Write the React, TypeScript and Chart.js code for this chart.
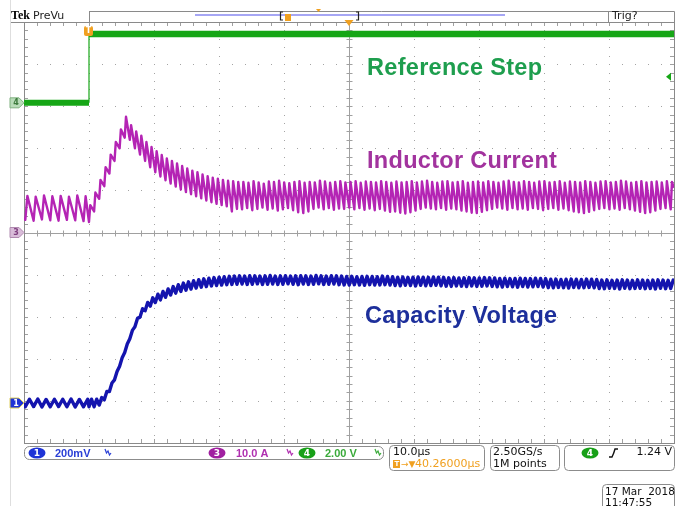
import React, { useEffect, useRef } from "react";
import { Chart, registerables } from "chart.js";

Chart.register(...registerables);

// ---------- horizontal: 10.0 µs/div, 10 divisions ----------
const timeMin = 0;
const timeMax = 100; // µs
const stepTime = 10; // µs, reference step edge

// ---------- channel settings: units per division, ground offset (div) ----------
const ch1PerDiv = 200; // mV/div  (capacity voltage, blue)
const ch1Offset = -4.05;
const ch3PerDiv = 10; // A/div   (inductor current, purple)
const ch3Offset = 0;
const ch4PerDiv = 2; // V/div   (reference step, green)
const ch4Offset = 3.08;
const triggerLevel = 1.24; // V on ch4

// ---------- CH4 reference step (V) ----------
const stepLowTimes = [0, 10];
const stepLowVolts = [0, 0];
const stepEdgeTimes = [10, 10];
const stepEdgeVolts = [0, 3.27];
const stepHighTimes = [10, 100];
const stepHighVolts = [3.27, 3.27];

// ---------- switching ripple timing (µs) ----------
const preStart = 0.2;
const prePeriod = 1.28;
const postStart = 10;
const postPeriod = 0.785;

// ---------- CH3 inductor current (A): [trough, peak] per switching cycle ----------
const currentFirst = 3.6;
const currentLast = 10.6;
const currentPre = [
  [3.0, 8.7], [2.8, 8.5], [3.1, 8.8], [2.9, 8.6], [2.8, 8.7], [3.0, 8.5], [2.9, 8.8], [2.7, 8.6],
];
const currentPost = [
  [2.5, 6.5], [5.0, 9.5], [8.0, 12.5], [11.0, 15.5], [14.0, 18.5], [17.0, 21.5], [20.0, 24.5], [22.5, 27.5], [22.0, 25.5], [20.0, 24.0],
  [18.5, 23.0], [17.0, 21.5], [15.5, 20.3], [14.3, 19.3], [13.3, 18.4], [12.4, 17.6], [11.6, 17.0], [10.9, 16.4], [10.2, 15.8], [9.6, 15.2],
  [9.1, 14.7], [8.6, 14.3], [8.1, 13.8], [7.6, 13.4], [7.2, 13.0], [6.8, 12.8], [6.5, 12.5], [6.2, 12.3], [5.0, 12.2], [5.6, 12.0],
  [5.5, 12.0], [5.8, 11.8], [5.3, 12.2], [5.6, 11.9], [5.9, 11.6], [5.4, 12.1], [5.7, 12.0], [5.2, 12.3], [5.5, 11.9], [5.8, 11.7],
  [5.3, 12.0], [4.8, 12.2], [4.6, 11.8], [5.0, 12.0], [5.6, 11.9], [5.9, 12.3], [5.5, 12.1], [5.8, 11.8], [5.4, 12.0], [5.7, 12.2],
  [5.6, 11.9], [5.9, 12.0], [5.5, 12.2], [5.8, 11.8], [5.4, 12.1], [5.7, 12.0], [5.3, 11.9], [5.6, 12.2], [5.2, 12.0], [4.9, 11.8],
  [5.0, 12.1], [4.7, 11.9], [4.5, 12.0], [4.8, 12.2], [5.2, 11.9], [5.6, 12.1], [5.9, 12.3], [5.7, 12.0], [5.5, 11.8], [5.8, 12.1],
  [5.4, 12.2], [5.7, 11.9], [5.5, 12.0], [5.2, 12.2], [5.0, 11.8], [4.7, 12.0], [4.6, 12.1], [4.9, 11.9], [5.3, 12.2], [5.6, 12.0],
  [5.9, 11.8], [5.7, 12.1], [5.4, 12.3], [5.8, 12.0], [5.5, 11.9], [5.7, 12.2], [5.4, 12.0], [5.8, 11.8], [5.6, 12.1], [5.3, 12.2],
  [5.6, 11.9], [5.8, 12.0], [5.4, 12.2], [5.7, 11.8], [5.3, 12.1], [5.0, 12.0], [4.8, 11.9], [4.6, 12.2], [4.9, 12.0], [5.3, 11.8],
  [5.6, 12.1], [5.8, 12.2], [5.5, 11.9], [5.7, 12.0], [5.4, 12.3], [5.8, 12.1], [5.5, 11.8], [5.2, 12.0], [4.9, 12.2], [4.6, 11.9],
  [4.8, 12.0], [5.2, 12.1], [5.6, 11.9], [5.8, 12.2], [5.5, 12.0],
];

// ---------- CH1 capacity voltage (mV): [trough, peak] per switching cycle ----------
const voltageFirst = 0;
const voltageLast = 566;
const voltagePre = [
  [-18, 18], [-17, 19], [-19, 17], [-18, 18], [-17, 18], [-18, 19], [-19, 17], [-18, 18],
];
const voltagePost = [
  [-18, 18], [-18, 18], [-10, 26], [15, 55], [55, 95], [110, 150], [175, 215], [240, 280], [305, 345], [362, 402],
  [408, 448], [438, 478], [460, 500], [477, 517], [490, 530], [502, 542], [513, 553], [522, 562], [530, 570], [536, 576],
  [541, 581], [546, 586], [550, 590], [553, 593], [556, 596], [558, 598], [560, 600], [562, 602], [563, 603], [564, 604],
  [565, 603], [563, 605], [564, 604], [566, 603], [563, 604], [564, 606], [565, 603], [563, 604], [564, 605], [566, 603],
  [564, 604], [562, 605], [565, 604], [563, 603], [564, 606], [566, 604], [563, 603], [564, 605], [565, 604], [562, 603],
  [561, 601], [560, 602], [562, 600], [561, 601], [559, 602], [562, 601], [560, 600], [561, 603], [562, 601], [560, 600],
  [558, 598], [557, 599], [559, 597], [558, 598], [556, 599], [559, 598], [557, 597], [558, 599], [559, 598], [557, 597],
  [555, 595], [554, 596], [556, 594], [555, 595], [553, 596], [556, 595], [554, 594], [555, 596], [556, 595], [554, 594],
  [552, 592], [551, 593], [553, 591], [552, 592], [550, 593], [553, 592], [551, 591], [552, 593], [553, 592], [551, 591],
  [548, 588], [547, 589], [549, 587], [548, 588], [546, 589], [549, 588], [547, 587], [548, 589], [549, 588], [547, 587],
  [544, 584], [543, 585], [545, 583], [544, 584], [542, 585], [545, 584], [543, 583], [544, 585], [545, 584], [543, 583],
  [544, 584], [542, 585], [545, 584], [543, 583], [544, 584],
];

// ---------- labels ----------
const traceLabels = ["Reference Step", "Inductor Current", "Capacity Voltage"];
const ch1Text = "200mV";
const ch3Text = "10.0 A";
const ch4Text = "2.00 V";
const horizText = "10.0µs";
const delayText = "40.26000µs";
const rateText = "2.50GS/s";
const pointsText = "1M points";
const trigText = "1.24 V";
const dateText = "17 Mar  2018";
const timeText = "11:47:55";

const W = 681;
const H = 506;

function ripplePoints(start: number, period: number, riseFrac: number, pairs: number[][]) {
  const pts: { x: number; y: number }[] = [];
  pairs.forEach(([lo, hi], k) => {
    const t0 = start + k * period;
    pts.push({ x: t0, y: lo }, { x: t0 + period * riseFrac, y: hi });
  });
  return pts;
}

function zip(xs: number[], ys: number[]) {
  return xs.map((x, i) => ({ x, y: ys[i] }));
}

function axisRange(perDiv: number, offset: number) {
  return { min: (-5 - offset) * perDiv, max: (5 - offset) * perDiv };
}

const GREEN = "#16a616";
const PURPLE = "#b424b4";
const BLUE = "#1414ae";
const ORANGE = "#f0a020";
const FONT = '"DejaVu Sans", sans-serif';

function badge(ctx: CanvasRenderingContext2D, cx: number, cy: number, n: string, fill: string) {
  ctx.fillStyle = fill;
  ctx.beginPath();
  ctx.ellipse(cx, cy, 8.5, 5.5, 0, 0, Math.PI * 2);
  ctx.fill();
  ctx.fillStyle = "#fff";
  ctx.font = `bold 9px ${FONT}`;
  ctx.textAlign = "center";
  ctx.textBaseline = "middle";
  ctx.fillText(n, cx, cy + 0.5);
  ctx.textAlign = "left";
}

function squiggle(ctx: CanvasRenderingContext2D, x: number, y: number, color: string) {
  ctx.strokeStyle = color;
  ctx.lineWidth = 1.2;
  ctx.beginPath();
  ctx.moveTo(x, y - 4);
  ctx.lineTo(x + 1.5, y);
  ctx.lineTo(x + 3, y - 2);
  ctx.lineTo(x + 4.5, y + 2);
  ctx.lineTo(x + 6, y);
  ctx.stroke();
}

function leftTag(ctx: CanvasRenderingContext2D, y: number, fill: string, stroke: string, txt: string, label: string) {
  ctx.beginPath();
  ctx.moveTo(10, y - 5);
  ctx.lineTo(19, y - 5);
  ctx.lineTo(24, y);
  ctx.lineTo(19, y + 5);
  ctx.lineTo(10, y + 5);
  ctx.closePath();
  ctx.fillStyle = fill;
  ctx.fill();
  ctx.strokeStyle = stroke;
  ctx.lineWidth = 1;
  ctx.stroke();
  ctx.fillStyle = txt;
  ctx.font = `bold 8px ${FONT}`;
  ctx.textAlign = "center";
  ctx.textBaseline = "middle";
  ctx.fillText(label, 16, y + 0.5);
  ctx.textAlign = "left";
}

const graticule = {
  id: "graticule",
  beforeDatasetsDraw(chart: any) {
    const ctx: CanvasRenderingContext2D = chart.ctx;
    const xs = chart.scales.x;
    const ys = chart.scales.yI;
    const L = xs.getPixelForValue(timeMin);
    const R = xs.getPixelForValue(timeMax);
    const T = ys.getPixelForValue(50);
    const B = ys.getPixelForValue(-50);
    ctx.save();
    ctx.fillStyle = "#a4a4a4";
    for (let d = 1; d < 10; d++) {
      if (d === 5) continue;
      const x = Math.round(xs.getPixelForValue(d * 10));
      for (let j = 1; j < 50; j++) ctx.fillRect(x, Math.round(ys.getPixelForValue(-50 + j * 2)), 1, 1);
    }
    for (let d = -4; d <= 4; d++) {
      if (d === 0) continue;
      const y = Math.round(ys.getPixelForValue(d * 10));
      for (let i = 1; i < 50; i++) ctx.fillRect(Math.round(xs.getPixelForValue(i * 2)), y, 1, 1);
    }
    const cx = Math.round(xs.getPixelForValue(50)) + 0.5;
    const cy = Math.round(ys.getPixelForValue(0)) + 0.5;
    ctx.strokeStyle = "#a0a0a0";
    ctx.lineWidth = 1;
    ctx.beginPath();
    ctx.moveTo(L, cy);
    ctx.lineTo(R, cy);
    ctx.moveTo(cx, T);
    ctx.lineTo(cx, B);
    for (let i = 1; i < 50; i++) {
      const x = Math.round(xs.getPixelForValue(i * 2)) + 0.5;
      ctx.moveTo(x, cy - 3);
      ctx.lineTo(x, cy + 3);
      ctx.moveTo(x, T);
      ctx.lineTo(x, T + 4);
      ctx.moveTo(x, B);
      ctx.lineTo(x, B - 4);
    }
    for (let j = 1; j < 50; j++) {
      const y = Math.round(ys.getPixelForValue(-50 + j * 2)) + 0.5;
      ctx.moveTo(cx - 3, y);
      ctx.lineTo(cx + 3, y);
      ctx.moveTo(L, y);
      ctx.lineTo(L + 4, y);
      ctx.moveTo(R, y);
      ctx.lineTo(R - 4, y);
    }
    ctx.stroke();
    ctx.strokeStyle = "#8a8a8a";
    ctx.strokeRect(Math.round(L) + 0.5, Math.round(T) + 0.5, Math.round(R - L), Math.round(B - T));
    // faint frame line on the far left
    ctx.strokeStyle = "#dedede";
    ctx.beginPath();
    ctx.moveTo(10.5, 0);
    ctx.lineTo(10.5, H);
    ctx.stroke();
    ctx.restore();
  },
  afterDraw(chart: any) {
    const ctx: CanvasRenderingContext2D = chart.ctx;
    const xs = chart.scales.x;
    const yI = chart.scales.yI;
    const yV = chart.scales.yV;
    const yR = chart.scales.yR;
    const L = xs.getPixelForValue(timeMin);
    const R = xs.getPixelForValue(timeMax);
    const T = yI.getPixelForValue(50);
    const B = yI.getPixelForValue(-50);
    ctx.save();

    // ---- trace captions ----
    ctx.font = `bold 23.5px "Liberation Sans", Arial, sans-serif`;
    ctx.textBaseline = "alphabetic";
    ctx.textAlign = "left";
    (ctx as any).letterSpacing = "0.3px";
    ctx.fillStyle = "#1e9e4e";
    ctx.fillText(traceLabels[0], 367, 75);
    ctx.fillStyle = "#a2339e";
    ctx.fillText(traceLabels[1], 367, 168);
    ctx.fillStyle = "#1d2f9b";
    ctx.fillText(traceLabels[2], 365, 323);
    (ctx as any).letterSpacing = "0px";

    // ---- header ----
    ctx.strokeStyle = "#8a8a8a";
    ctx.lineWidth = 1;
    ctx.beginPath();
    ctx.moveTo(89, 11.5);
    ctx.lineTo(R + 0.5, 11.5);
    ctx.moveTo(89.5, 11.5);
    ctx.lineTo(89.5, T);
    ctx.moveTo(608.5, 11.5);
    ctx.lineTo(608.5, T);
    ctx.moveTo(Math.round(R) + 0.5, 11.5);
    ctx.lineTo(Math.round(R) + 0.5, T);
    ctx.moveTo(11, Math.round(T) + 0.5);
    ctx.lineTo(L, Math.round(T) + 0.5);
    ctx.stroke();
    ctx.fillStyle = "#000";
    ctx.font = `bold 12px "Liberation Serif", serif`;
    ctx.fillText("Tek", 11, 19);
    ctx.font = `11px ${FONT}`;
    ctx.fillStyle = "#222";
    ctx.fillText("PreVu", 33, 19);
    ctx.fillText("Trig?", 612, 19);
    ctx.fillStyle = "#a6a6f4";
    ctx.fillRect(195, 14, 310, 2);
    ctx.strokeStyle = "#222";
    ctx.lineWidth = 1.2;
    ctx.beginPath();
    ctx.moveTo(283, 12);
    ctx.lineTo(280.5, 12);
    ctx.lineTo(280.5, 20);
    ctx.lineTo(283, 20);
    ctx.moveTo(356, 12);
    ctx.lineTo(358.5, 12);
    ctx.lineTo(358.5, 20);
    ctx.lineTo(356, 20);
    ctx.stroke();
    ctx.fillStyle = ORANGE;
    ctx.fillRect(285, 14, 6, 7);
    ctx.beginPath();
    ctx.moveTo(316, 9);
    ctx.lineTo(321, 9);
    ctx.lineTo(318.5, 12);
    ctx.fill();
    const cxp = xs.getPixelForValue(50);
    ctx.beginPath();
    ctx.moveTo(cxp - 4.5, 20);
    ctx.lineTo(cxp + 4.5, 20);
    ctx.lineTo(cxp, 26);
    ctx.closePath();
    ctx.fill();

    // ---- trigger marker on waveform ----
    const tx = xs.getPixelForValue(stepTime);
    const ty = yR.getPixelForValue(stepHighVolts[0]);
    ctx.fillStyle = ORANGE;
    ctx.beginPath();
    (ctx as any).roundRect(tx - 5, ty - 8, 9, 10, 2);
    ctx.fill();
    ctx.fillStyle = "#fff";
    ctx.font = `bold 8px ${FONT}`;
    ctx.textAlign = "center";
    ctx.textBaseline = "middle";
    ctx.fillText("T", tx - 0.5, ty - 3);
    ctx.textAlign = "left";

    // ---- trigger level marker (right) ----
    const tl = yR.getPixelForValue(triggerLevel);
    ctx.fillStyle = GREEN;
    ctx.beginPath();
    ctx.moveTo(R - 8, tl);
    ctx.lineTo(R - 3, tl - 4);
    ctx.lineTo(R - 3, tl + 4);
    ctx.closePath();
    ctx.fill();

    // ---- ground markers (left) ----
    leftTag(ctx, yR.getPixelForValue(0), "#b9dcb9", "#7fb07f", "#3c7a3c", "4");
    leftTag(ctx, yI.getPixelForValue(0), "#d9bcd9", "#b08ab0", "#804080", "3");
    leftTag(ctx, yV.getPixelForValue(0), "#1f34d6", "#e0d060", "#ffffff", "1");

    // ---- status bar ----
    ctx.strokeStyle = "#8c8c8c";
    ctx.lineWidth = 1;
    ctx.beginPath();
    (ctx as any).roundRect(L + 0.5, B + 3.5, 359, 13, 5);
    ctx.stroke();
    ctx.beginPath();
    (ctx as any).roundRect(389.5, B + 2.5, 95, 25, 4);
    (ctx as any).roundRect(490.5, B + 2.5, 69, 25, 4);
    (ctx as any).roundRect(564.5, B + 2.5, 110, 25, 4);
    (ctx as any).roundRect(602.5, 484.5, 72, 30, 4);
    ctx.stroke();

    const r1 = B + 10;
    badge(ctx, 37, r1, "1", "#1f34d6");
    badge(ctx, 217, r1, "3", "#a020a0");
    badge(ctx, 307, r1, "4", "#18a018");
    ctx.font = `bold 11px "Liberation Sans", Arial, sans-serif`;
    ctx.textBaseline = "middle";
    ctx.fillStyle = "#2a3fd6";
    ctx.fillText(ch1Text, 55, r1 + 0.5);
    ctx.fillStyle = "#b030b0";
    ctx.fillText(ch3Text, 236, r1 + 0.5);
    ctx.fillStyle = "#3aaa3a";
    ctx.fillText(ch4Text, 325, r1 + 0.5);
    squiggle(ctx, 105, r1, "#2a3fd6");
    squiggle(ctx, 287, r1, "#b030b0");
    squiggle(ctx, 375, r1, "#3aaa3a");

    ctx.font = `11px ${FONT}`;
    ctx.fillStyle = "#111";
    ctx.fillText(horizText, 393, B + 9.5);
    ctx.fillText(rateText, 493, B + 9.5);
    ctx.fillText(pointsText, 493, B + 21.5);
    ctx.fillStyle = ORANGE;
    ctx.fillRect(393, B + 17, 7, 8);
    ctx.fillStyle = "#fff";
    ctx.font = `bold 7px ${FONT}`;
    ctx.fillText("T", 394.5, B + 21.5);
    ctx.fillStyle = ORANGE;
    ctx.font = `9px ${FONT}`;
    ctx.fillText("→▼", 401, B + 21.5);
    ctx.font = `11px ${FONT}`;
    ctx.fillText(delayText, 415, B + 21.5);

    badge(ctx, 590, B + 10, "4", "#18a018");
    ctx.strokeStyle = "#111";
    ctx.lineWidth = 1.4;
    ctx.beginPath();
    ctx.moveTo(609, B + 14);
    ctx.lineTo(612, B + 14);
    ctx.quadraticCurveTo(614, B + 10, 615, B + 6);
    ctx.lineTo(618, B + 6);
    ctx.stroke();
    ctx.fillStyle = "#111";
    ctx.font = `11px ${FONT}`;
    ctx.textAlign = "right";
    ctx.fillText(trigText, 672, B + 9.5);
    ctx.textAlign = "left";
    ctx.font = `10.5px ${FONT}`;
    ctx.fillText(dateText, 605, 492);
    ctx.fillText(timeText, 605, 503);

    ctx.restore();
  },
};

export default function App() {
  const ref = useRef<HTMLCanvasElement>(null);

  useEffect(() => {
    const currentData = [
      { x: timeMin, y: currentFirst },
      ...ripplePoints(preStart, prePeriod, 0.25, currentPre),
      ...ripplePoints(postStart, postPeriod, 0.25, currentPost),
      { x: timeMax, y: currentLast },
    ];
    const voltageData = [
      { x: timeMin, y: voltageFirst },
      ...ripplePoints(preStart, prePeriod, 0.5, voltagePre),
      ...ripplePoints(postStart, postPeriod, 0.5, voltagePost),
      { x: timeMax, y: voltageLast },
    ];
    const base = { pointRadius: 0, tension: 0, fill: false, borderJoinStyle: "round" as const };
    const chart = new Chart(ref.current as HTMLCanvasElement, {
      type: "line",
      data: {
        datasets: [
          { ...base, label: "ref low", data: zip(stepLowTimes, stepLowVolts), yAxisID: "yR", borderColor: GREEN, borderWidth: 6 },
          { ...base, label: "ref edge", data: zip(stepEdgeTimes, stepEdgeVolts), yAxisID: "yR", borderColor: GREEN, borderWidth: 1.2 },
          { ...base, label: "ref high", data: zip(stepHighTimes, stepHighVolts), yAxisID: "yR", borderColor: GREEN, borderWidth: 6.5 },
          { ...base, label: "current", data: currentData, yAxisID: "yI", borderColor: PURPLE, borderWidth: 2.4 },
          { ...base, label: "voltage", data: voltageData, yAxisID: "yV", borderColor: BLUE, borderWidth: 3.4 },
        ],
      },
      options: {
        responsive: false,
        animation: false,
        events: [],
        layout: { padding: { left: 24, right: 7, top: 22, bottom: 63 } },
        plugins: { legend: { display: false }, tooltip: { enabled: false }, title: { display: false } },
        scales: {
          x: { type: "linear", min: timeMin, max: timeMax, display: false },
          yI: { type: "linear", ...axisRange(ch3PerDiv, ch3Offset), display: false },
          yV: { type: "linear", ...axisRange(ch1PerDiv, ch1Offset), display: false },
          yR: { type: "linear", ...axisRange(ch4PerDiv, ch4Offset), display: false },
        },
      },
      plugins: [graticule],
    });
    return () => chart.destroy();
  }, []);

  return (
    <div style={{ position: "fixed", left: 0, top: 0, width: W, height: H, background: "#fff" }}>
      <canvas ref={ref} width={W} height={H} style={{ width: W, height: H, display: "block" }} />
    </div>
  );
}
